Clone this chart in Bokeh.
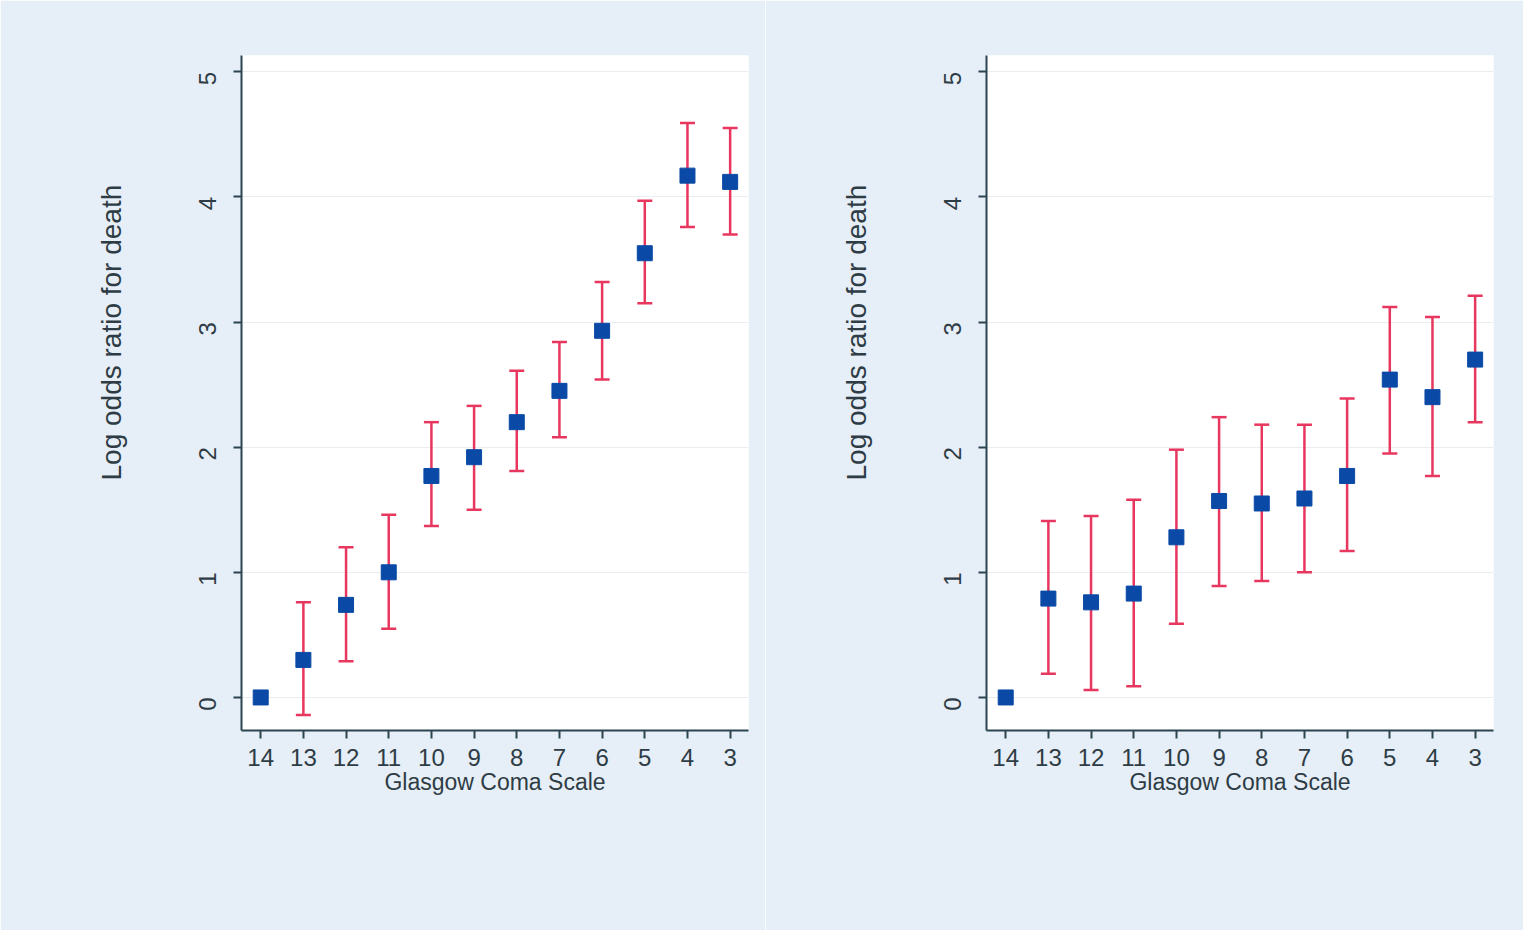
import math
from bokeh.plotting import figure
from bokeh.models import ColumnDataSource, Whisker, TeeHead, FixedTicker, Range1d, Title
from bokeh.layouts import row
from bokeh.embed import file_html
from bokeh.resources import INLINE

gcs = [14, 13, 12, 11, 10, 9, 8, 7, 6, 5, 4, 3]

est_left = [0.00, 0.30, 0.74, 1.00, 1.77, 1.92, 2.20, 2.45, 2.93, 3.55, 4.17, 4.12]
low_left = [None, -0.14, 0.29, 0.55, 1.37, 1.50, 1.81, 2.08, 2.54, 3.15, 3.76, 3.70]
high_left = [None, 0.76, 1.20, 1.46, 2.20, 2.33, 2.61, 2.84, 3.32, 3.97, 4.59, 4.55]

est_right = [0.00, 0.79, 0.76, 0.83, 1.28, 1.57, 1.55, 1.59, 1.77, 2.54, 2.40, 2.70]
low_right = [None, 0.19, 0.06, 0.09, 0.59, 0.89, 0.93, 1.00, 1.17, 1.95, 1.77, 2.20]
high_right = [None, 1.41, 1.45, 1.58, 1.98, 2.24, 2.18, 2.18, 2.39, 3.12, 3.04, 3.21]

y_ticks = [0, 1, 2, 3, 4, 5]
x_title = "Glasgow Coma Scale"
y_title = "Log odds ratio for death"

BG = "#e6eef7"
AXIS = "#2b4550"
TEXT = "#2e3c45"
BAR = "#e8375f"
MARK = "#0a4aa6"
FONT = "Liberation Sans"


def panel(est, low, high, left_border, right_border):
    pos = list(range(len(gcs)))
    p = figure(frame_width=507, frame_height=675,
               min_border_left=left_border, min_border_right=right_border,
               min_border_top=55, min_border_bottom=200,
               x_range=Range1d(-0.45, 11.43), y_range=Range1d(-0.264, 5.13),
               output_backend="svg", toolbar_location=None)
    p.background_fill_color = "white"
    p.border_fill_color = BG
    p.outline_line_color = None

    p.xgrid.grid_line_color = None
    p.ygrid.grid_line_color = "#e9edf0"
    p.ygrid.grid_line_width = 1.2

    p.xaxis.ticker = FixedTicker(ticks=pos)
    p.xaxis.major_label_overrides = {i: str(g) for i, g in zip(pos, gcs)}
    p.yaxis.ticker = FixedTicker(ticks=y_ticks)
    p.yaxis.major_label_orientation = math.pi / 2

    for ax in (p.xaxis[0], p.yaxis[0]):
        ax.axis_line_color = AXIS
        ax.axis_line_width = 2
        ax.major_tick_line_color = AXIS
        ax.major_tick_line_width = 2
        ax.major_tick_out = 8
        ax.major_tick_in = 0
        ax.minor_tick_line_color = None
        ax.major_label_text_font = FONT
        ax.major_label_text_font_size = "24px"
        ax.major_label_text_color = TEXT

    p.xaxis.major_label_standoff = 10
    p.yaxis.major_label_standoff = 26
    p.xaxis.axis_label = x_title
    p.xaxis.axis_label_text_font = FONT
    p.xaxis.axis_label_text_font_size = "23px"
    p.xaxis.axis_label_text_font_style = "normal"
    p.xaxis.axis_label_text_color = TEXT
    p.xaxis.axis_label_standoff = 0

    t = Title(text=y_title, align="left", offset=250, standoff=121,
              text_font=FONT, text_font_size="28px", text_font_style="normal",
              text_color=TEXT)
    p.add_layout(t, "left")

    idx = [i for i in pos if low[i] is not None]
    wsrc = ColumnDataSource(data=dict(
        x=[pos[i] for i in idx],
        lower=[low[i] for i in idx],
        upper=[high[i] for i in idx]))
    w = Whisker(source=wsrc, base="x", lower="lower", upper="upper",
                line_color=BAR, line_width=2.5,
                lower_head=TeeHead(size=15, line_color=BAR, line_width=2.5),
                upper_head=TeeHead(size=15, line_color=BAR, line_width=2.5))
    p.add_layout(w)

    src = ColumnDataSource(data=dict(x=pos, y=est))
    p.scatter("x", "y", source=src, marker="square", size=15,
              fill_color=MARK, line_color=MARK)
    return p


p1 = panel(est_left, low_left, high_left, 241, 17)
p2 = panel(est_right, low_right, high_right, 221, 30)
layout = row(p1, p2, spacing=0)

open("out.html", "w").write(file_html(layout, INLINE))
